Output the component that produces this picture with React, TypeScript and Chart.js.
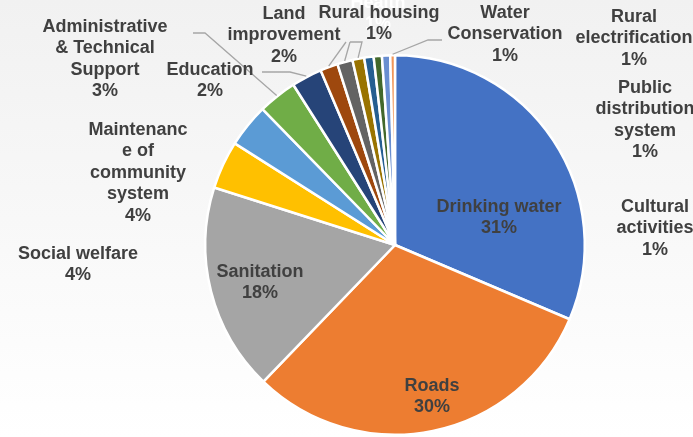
import React, { useEffect, useRef } from "react";
import { Chart, registerables } from "chart.js";

Chart.register(...registerables);

// ---- data ----
const categories = [
  "Drinking water",
  "Roads",
  "Sanitation",
  "Social welfare",
  "Maintenance of community system",
  "Administrative & Technical Support",
  "Education",
  "Land improvement",
  "Rural housing",
  "Health",
  "Rural electrification",
  "Public distribution system",
  "Cultural activities",
  "Water Conservation",
];
const shares = [31.4, 30.8, 17.7, 4.1, 3.7, 3.3, 2.6, 1.5, 1.3, 1.0, 0.8, 0.7, 0.7, 0.4];
const percentLabels = ["31%", "30%", "18%", "4%", "4%", "3%", "2%", "2%", "1%", "1%", "1%", "1%", "1%", "1%"];
// category names as wrapped in the picture
const wrappedNames = [
  ["Drinking water"],
  ["Roads"],
  ["Sanitation"],
  ["Social welfare"],
  ["Maintenanc", "e of", "community", "system"],
  ["Administrative", "& Technical", "Support"],
  ["Education"],
  ["Land", "improvement"],
  ["Rural housing"],
  ["Health"],
  ["Rural", "electrification"],
  ["Public", "distribution", "system"],
  ["Cultural", "activities"],
  ["Water", "Conservation"],
];

// ---- styles / layout ----
const sliceColors = [
  "#4472C4", "#ED7D31", "#A5A5A5", "#FFC000", "#5B9BD5", "#70AD47", "#264478",
  "#9E480E", "#636363", "#997300", "#255E91", "#43682B", "#698ED0", "#F1975A",
];
const labelColors = categories.map((_, i) => (i === 9 ? "#FFFFFF" : "#404040"));
// label centre x, centre y of first line
const labelPos: [number, number][] = [
  [499, 207],
  [432, 386],
  [260, 272],
  [78, 254],
  [138, 130],
  [105, 27],
  [210, 70],
  [284, 14],
  [379, 13],
  [378, 3],
  [634, 17],
  [645, 88],
  [655, 207],
  [505, 13],
];
// leader line points on the label side (the end is on the slice edge)
const leaderStarts: ([number, number][] | null)[] = [
  null, null, null, null, null,
  [[193, 33], [205, 33]],
  [[262, 72], [290, 72]],
  [[346, 42]],
  [[350, 42]],
  [[350, 42], [362, 42]],
  null, null, null,
  [[442, 40], [428, 40]],
];
const LINE_H = 21.5;
const FONT = "bold 18px 'Liberation Sans', Arial, sans-serif";

const labelPlugin = {
  id: "pieLabels",
  afterDatasetsDraw(chart: any) {
    const ctx = chart.ctx as CanvasRenderingContext2D;
    const meta = chart.getDatasetMeta(0);
    ctx.save();
    // leader lines
    ctx.strokeStyle = "#A6A6A6";
    ctx.lineWidth = 1.3;
    leaderStarts.forEach((pts, i) => {
      if (!pts) return;
      const arc = meta.data[i] as any;
      const p = arc.getProps(["x", "y", "startAngle", "endAngle", "outerRadius"], true);
      const mid = (p.startAngle + p.endAngle) / 2;
      const r = p.outerRadius + 1;
      const ax = p.x + Math.cos(mid) * r;
      const ay = p.y + Math.sin(mid) * r;
      ctx.beginPath();
      ctx.moveTo(pts[0][0], pts[0][1]);
      for (let k = 1; k < pts.length; k++) ctx.lineTo(pts[k][0], pts[k][1]);
      ctx.lineTo(ax, ay);
      ctx.stroke();
    });
    // labels (white one first so the grey text stays on top)
    ctx.font = FONT;
    ctx.textAlign = "center";
    ctx.textBaseline = "middle";
    const order = categories.map((_, i) => i).sort((a, b) => (labelColors[b] === "#FFFFFF" ? 1 : 0) - (labelColors[a] === "#FFFFFF" ? 1 : 0));
    order.forEach((i) => {
      const lines = [...wrappedNames[i], percentLabels[i]];
      const [cx, cy] = labelPos[i];
      ctx.fillStyle = labelColors[i];
      lines.forEach((t, k) => ctx.fillText(t, cx, cy + k * LINE_H));
    });
    ctx.restore();
  },
};

export default function App() {
  const ref = useRef<HTMLCanvasElement | null>(null);
  useEffect(() => {
    if (!ref.current) return;
    const chart = new Chart(ref.current, {
      type: "pie",
      data: {
        labels: categories,
        datasets: [
          {
            data: shares,
            backgroundColor: sliceColors,
            borderColor: "#FFFFFF",
            borderWidth: 2.5,
          },
        ],
      },
      options: {
        responsive: false,
        animation: false,
        layout: { padding: { left: 204, right: 107, top: 53, bottom: 0 } },
        plugins: { legend: { display: false }, tooltip: { enabled: false } },
      },
      plugins: [labelPlugin],
    });
    return () => chart.destroy();
  }, []);
  return (
    <div
      style={{
        position: "fixed",
        left: 0,
        top: 0,
        width: 693,
        height: 437,
        background: "linear-gradient(#f1f1f1, #ffffff)",
      }}
    >
      <canvas ref={ref} width={693} height={437} style={{ display: "block" }} />
    </div>
  );
}
